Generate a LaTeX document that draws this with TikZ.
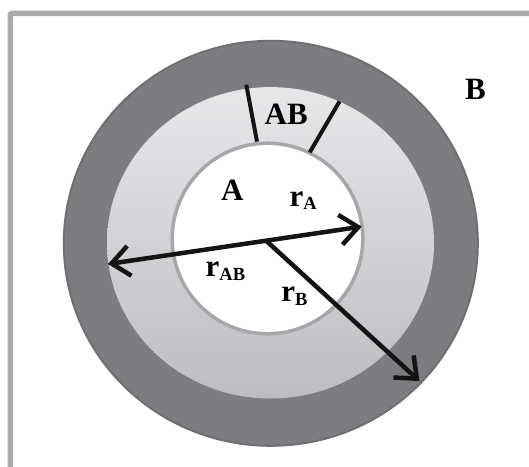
\documentclass[tikz,border=0pt]{standalone}
\usepackage{fontspec}
\setmainfont{Liberation Serif}
\usetikzlibrary{arrows.meta}
\definecolor{framegray}{HTML}{A9AAAD}
\definecolor{ringdark}{HTML}{7C7D81}
\definecolor{ringedge}{HTML}{6E6F73}
\definecolor{midtop}{HTML}{E6E7E9}
\definecolor{midbot}{HTML}{BCBDC0}
\definecolor{innerrim}{HTML}{A6A7AA}
\newcommand{\lblfnt}{\fontsize{31}{36}\selectfont\bfseries}
\newcommand{\sublbl}[1]{\raisebox{-3.5pt}{\fontsize{18.5}{20}\selectfont #1}}
\tikzset{
  lbl/.style={inner sep=0pt, anchor=base west, font=\lblfnt, text=black},
  radline/.style={line width=4pt, black!92},
  arr/.style={line width=4.5pt, black!92, line cap=round,
    -{Straight Barb[length=18pt,width=30pt,line width=4.5pt]}},
  darr/.style={line width=4.5pt, black!92, line cap=round,
    {Straight Barb[length=18pt,width=30pt,line width=4.5pt]}-{Straight Barb[length=18pt,width=30pt,line width=4.5pt]}}
}
\begin{document}
\begin{tikzpicture}[x=1pt,y=-1pt]
\useasboundingbox (0,0) rectangle (529,466);
\clip (0,0) rectangle (529,466);
\fill[white] (0,0) rectangle (529,466);
% frame
\draw[framegray, line width=5.5pt, rounded corners=2pt] (10.3,13.3) rectangle (545,485);
% outer ring
\draw[ringedge, fill=ringdark, line width=2pt] (270.8,243.3) ellipse [x radius=207, y radius=202.5];
% middle disc
\shade[top color=midtop, bottom color=midbot] (270.5,242.8) ellipse [x radius=163.5, y radius=155.7];
% inner disc
\draw[innerrim, fill=white, line width=3.5pt] (267.5,238.5) circle [radius=95.3];
% AB boundaries
\coordinate (l1a) at (246.3,84.8);
\coordinate (l1b) at (257,141.6);
\coordinate (l2a) at (339.5,101.5);
\coordinate (l2b) at (309.7,152.4);
\draw[radline] (l1a) -- (l1b);
\draw[radline] (l2a) -- (l2b);
% arrows
\coordinate (O) at (266.5,241);
\coordinate (tipL) at (108,264);
\coordinate (tipR) at (361.7,226.6);
\coordinate (tipB) at (419.4,381);
\draw[darr] (tipL) -- (tipR);
\draw[arr] (O) -- (tipB);
% labels
\node[lbl] (labB) at (465,99) {B};
\node[lbl] (labA) at (221,200.7) {A};
\node[lbl] (labAB) at (264.5,124) {AB};
\node[lbl] (rA) at (289.5,206) {r\sublbl{A}};
\node[lbl] (rAB) at (205.5,276.7) {r\sublbl{AB}};
\node[lbl] (rB) at (281.2,301.7) {r\sublbl{B}};
\end{tikzpicture}
\end{document}
